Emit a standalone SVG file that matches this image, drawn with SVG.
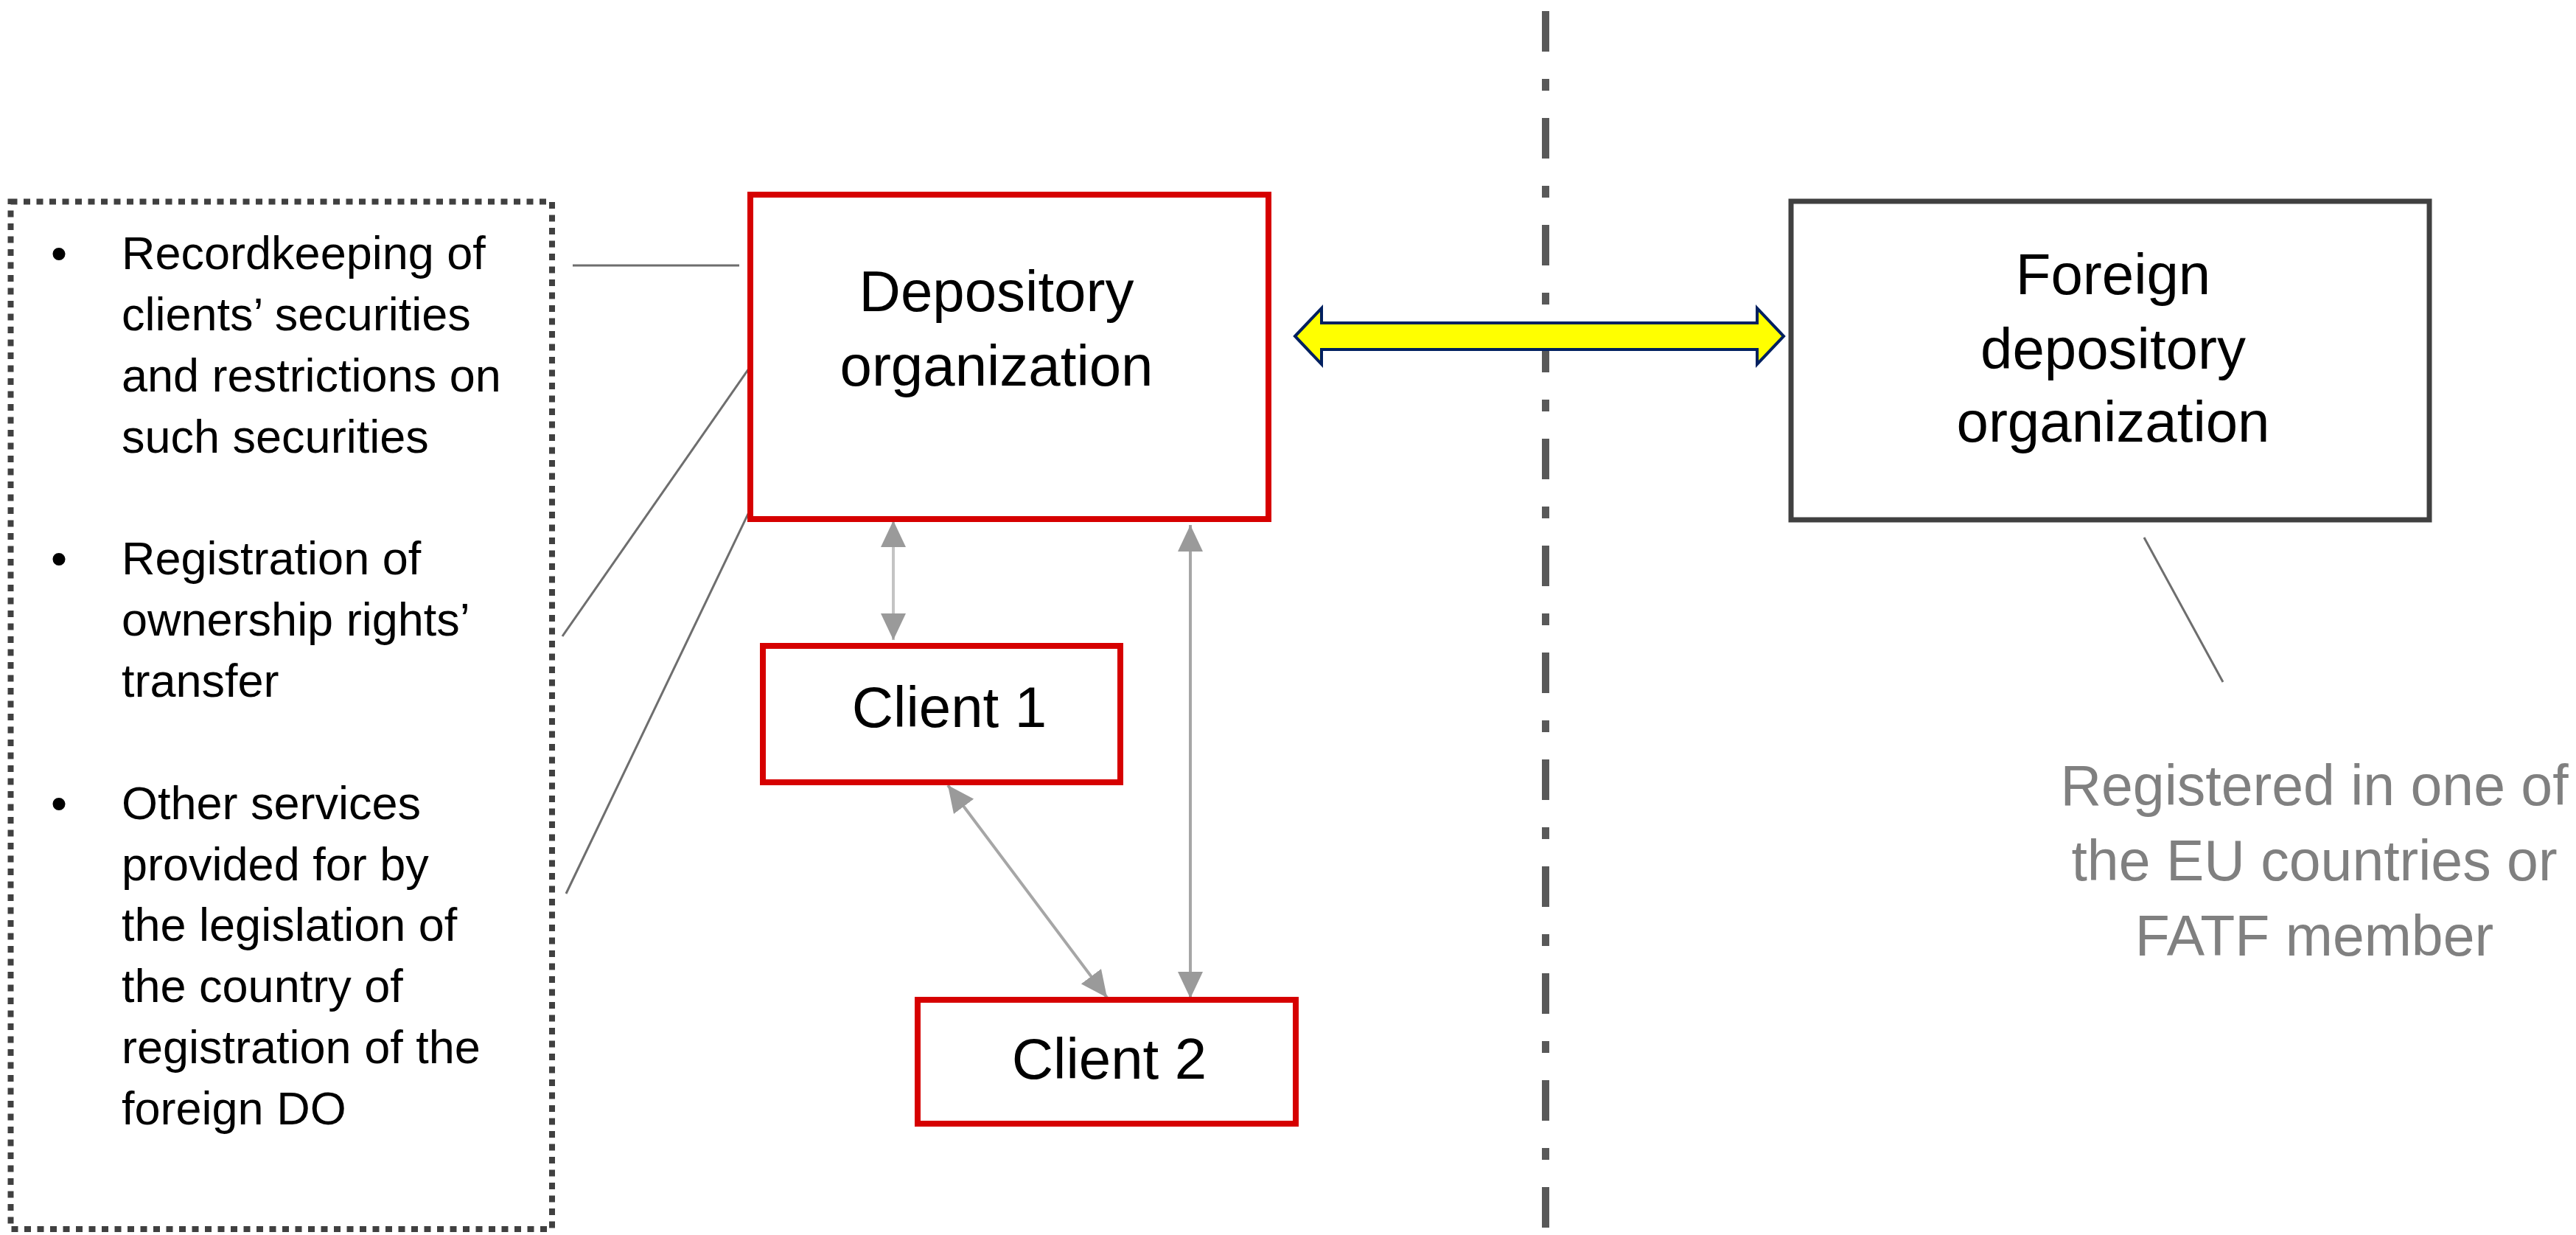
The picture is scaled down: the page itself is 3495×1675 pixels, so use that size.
<svg xmlns="http://www.w3.org/2000/svg" width="3495" height="1675" viewBox="0 0 3495 1675">
<defs>
<style>
.t{font-family:"Liberation Sans",Arial,sans-serif;fill:#000}
.lst{font-size:63px}
.box{font-size:78px;text-anchor:middle}
.red{fill:#fff;stroke:#d60000;stroke-width:8}
.gl{stroke:#6e6e6e;stroke-width:3;fill:none}
.ga{stroke:#a6a6a6;stroke-width:4;fill:none;marker-start:url(#ah);marker-end:url(#ah)}
.note{font-size:77px;text-anchor:middle;fill:#808080}
</style>
<marker id="ah" markerUnits="userSpaceOnUse" markerWidth="36" markerHeight="34" refX="36" refY="17" orient="auto-start-reverse" viewBox="0 0 36 34">
<path d="M0,0 L36,17 L0,34 z" fill="#9a9a9a"/>
</marker>
</defs>
<rect width="3495" height="1675" fill="#fff"/>

<g id="separator">
<line x1="2097" y1="15" x2="2097" y2="1675" stroke="#595959" stroke-width="10" stroke-dasharray="55 37 16 37"/>
</g>

<g id="services">
<rect x="14.5" y="273.5" width="734.5" height="1393.5" fill="none" stroke="#404040" stroke-width="8" stroke-dasharray="9 8.5"/>
<g class="t lst">
<text x="69" y="365">•</text>
<text x="165" y="365">Recordkeeping of</text>
<text x="165" y="447.9">clients’ securities</text>
<text x="165" y="530.7">and restrictions on</text>
<text x="165" y="613.6">such securities</text>
<text x="69" y="779.3">•</text>
<text x="165" y="779.3">Registration of</text>
<text x="165" y="862.1">ownership rights’</text>
<text x="165" y="945">transfer</text>
<text x="69" y="1110.7">•</text>
<text x="165" y="1110.7">Other services</text>
<text x="165" y="1193.5">provided for by</text>
<text x="165" y="1276.4">the legislation of</text>
<text x="165" y="1359.2">the country of</text>
<text x="165" y="1442.1">registration of the</text>
<text x="165" y="1525">foreign DO</text>
</g>
</g>

<g id="connectors">
<line class="gl" x1="777" y1="360" x2="1003" y2="360"/>
<line class="gl" x1="763" y1="863" x2="1025" y2="487"/>
<line class="gl" x1="768" y1="1212" x2="1025" y2="676"/>
<line class="gl" x1="2909" y1="729" x2="3016" y2="925"/>
<line class="ga" style="stroke:#c4c4c4" x1="1212" y1="706" x2="1212" y2="868"/>
<line class="ga" x1="1615" y1="712" x2="1615" y2="1354"/>
<line class="ga" x1="1286" y1="1065" x2="1502" y2="1353"/>
<polygon points="1757,456 1793,418 1793,438 2384,438 2384,418 2420,456 2384,494 2384,474 1793,474 1793,494" fill="#ffff00" stroke="#002060" stroke-width="4" stroke-linejoin="miter"/>
</g>

<g id="depository">
<rect class="red" x="1018" y="264" width="703" height="440"/>
<text class="t box" x="1352" y="422">Depository</text>
<text class="t box" x="1352" y="523">organization</text>
</g>

<g id="client1">
<rect class="red" x="1035" y="876" width="485" height="185"/>
<text class="t box" x="1288" y="986" font-size="76">Client 1</text>
</g>

<g id="client2">
<rect class="red" x="1245" y="1356" width="513" height="168"/>
<text class="t box" x="1505" y="1463" font-size="76">Client 2</text>
</g>

<g id="foreign">
<rect x="2430" y="273" width="866" height="432" fill="#fff" stroke="#404040" stroke-width="7"/>
<text class="t box" x="2867" y="399">Foreign</text>
<text class="t box" x="2867" y="500">depository</text>
<text class="t box" x="2867" y="599">organization</text>
</g>

<g id="note">
<text class="t note" x="3140" y="1092" style="fill:#808080">Registered in one of</text>
<text class="t note" x="3140" y="1194" style="fill:#808080">the EU countries or</text>
<text class="t note" x="3140" y="1296" style="fill:#808080">FATF member</text>
</g>
</svg>
